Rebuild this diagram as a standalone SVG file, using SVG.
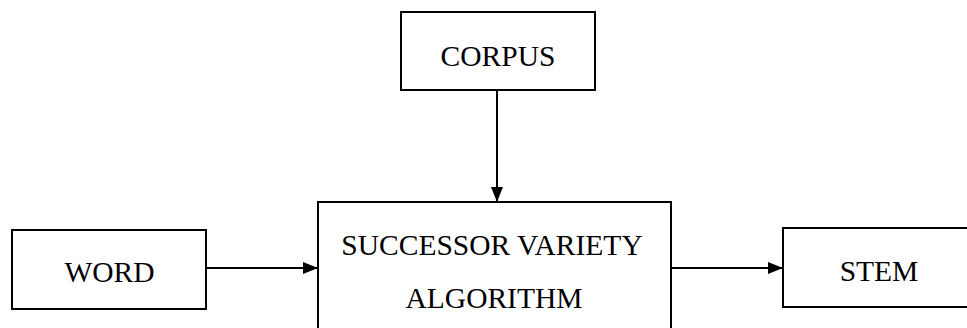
<svg xmlns="http://www.w3.org/2000/svg" width="967" height="328" viewBox="0 0 967 328">
<style>
.box{fill:#fff;stroke:#000;stroke-width:2}
.lbl{font-family:"Liberation Serif","Times New Roman",serif;font-size:29.5px;fill:#000;text-anchor:middle}
.conn{stroke:#000;stroke-width:2;fill:none}
</style>
<defs>
<marker id="arr" markerWidth="15" markerHeight="12" refX="15" refY="6" orient="auto" markerUnits="userSpaceOnUse">
<path d="M0,0 L15,6 L0,12 Z" fill="#000"/>
</marker>
</defs>
<rect width="967" height="328" fill="#fff"/>
<g id="corpus">
<rect class="box" x="401" y="12" width="194" height="78"/>
<text class="lbl" x="498" y="66">CORPUS</text>
</g>
<g id="word">
<rect class="box" x="12" y="230" width="194" height="79"/>
<text class="lbl" x="109.5" y="282">WORD</text>
</g>
<g id="algorithm">
<rect class="box" x="318" y="202" width="353" height="140"/>
<text class="lbl" x="492" y="255">SUCCESSOR VARIETY</text>
<text class="lbl" x="494" y="308">ALGORITHM</text>
</g>
<g id="stem">
<rect class="box" x="783" y="228" width="200" height="79"/>
<text class="lbl" x="879" y="281">STEM</text>
</g>
<g id="connectors">
<line class="conn" x1="497" y1="90" x2="497" y2="202" marker-end="url(#arr)"/>
<line class="conn" x1="206" y1="268" x2="318" y2="268" marker-end="url(#arr)"/>
<line class="conn" x1="671" y1="268" x2="783" y2="268" marker-end="url(#arr)"/>
</g>
</svg>
